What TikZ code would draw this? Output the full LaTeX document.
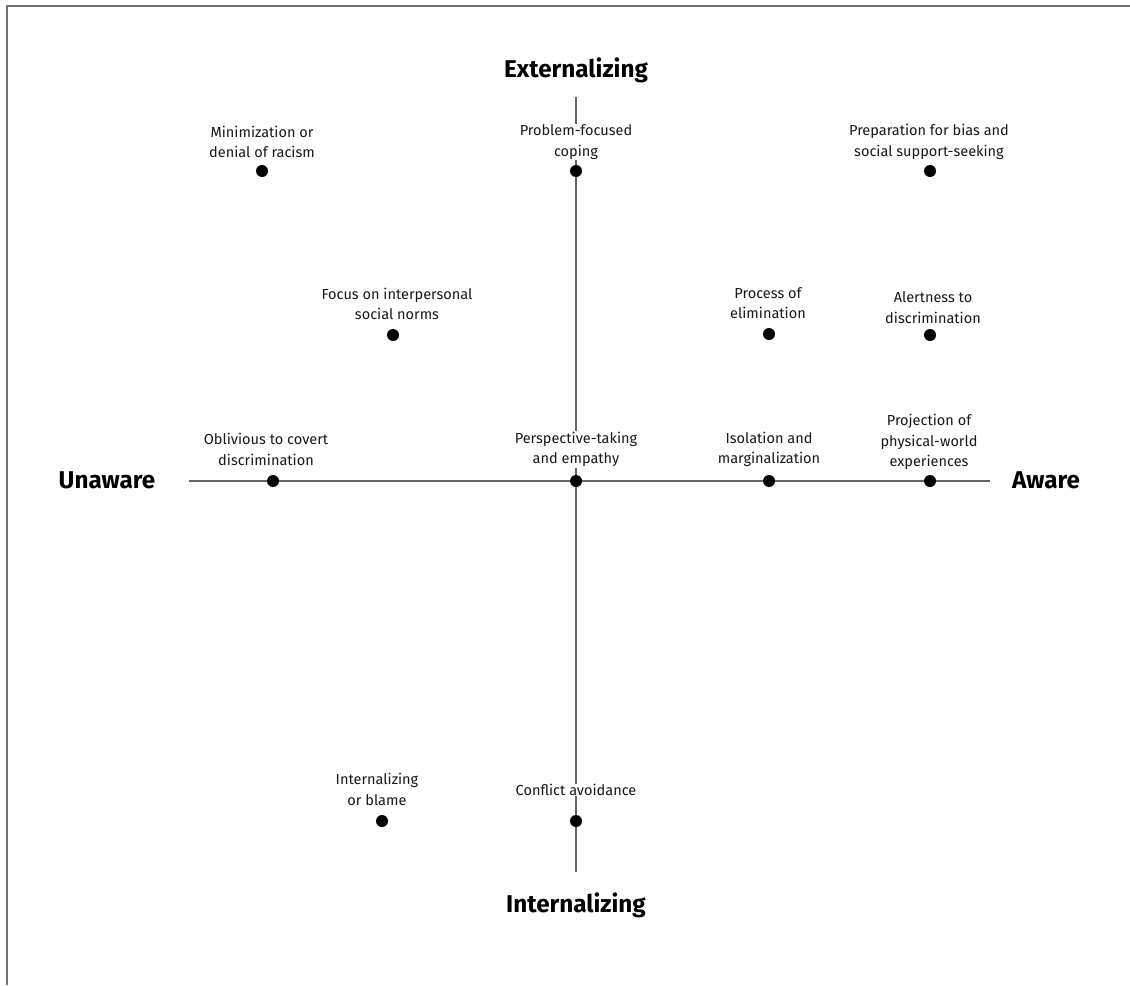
\documentclass[tikz,border=0pt]{standalone}
\usepackage{fontspec}
\setmainfont{Fira Sans}
\begin{document}
\begin{tikzpicture}[x=0.75pt,y=-0.75pt,
  frameline/.style={draw=black!55,line width=1.5pt},
  axisline/.style={draw=black!60,line width=1.5pt},
  dotmark/.style={circle,fill=black,inner sep=0pt,minimum size=9pt},
  lbl/.style={align=center,fill=white,inner sep=0.5pt,text=black!90,
    font=\fontsize{10.9}{15.4}\selectfont},
  pole/.style={font=\fontsize{18.2}{21}\selectfont\bfseries,text=black}]
\useasboundingbox (0,0) rectangle (1130,985);
% open frame: top and left edges only
\draw[frameline] (7,985) -- (7,5.5) -- (1130,5.5);
% axis end points
\coordinate (xl) at (189,481);
\coordinate (xr) at (990,481);
\coordinate (yt) at (576,97);
\coordinate (yb) at (576,872);
\draw[axisline] (xl) -- (xr);
\draw[axisline] (yt) -- (yb);
% pole labels
\node[pole] (ext) at (576,70) {Externalizing};
\node[pole] (int) at (576,905) {Internalizing};
\node[pole] (una) at (107,480) {Unaware};
\node[pole] (awa) at (1046,480) {Aware};
% strategies
\node[lbl] (l1) at (262,142) {Minimization or\\denial of racism};
\node[dotmark] (d1) at (262,171) {};
\node[lbl] (l2) at (576,142) {Problem-focused\\coping};
\node[dotmark] (d2) at (576,171) {};
\node[lbl] (l3) at (929,142) {Preparation for bias and\\social support-seeking};
\node[dotmark] (d3) at (930,171) {};
\node[lbl] (l4) at (397,304) {Focus on interpersonal\\social norms};
\node[dotmark] (d4) at (393,335) {};
\node[lbl] (l5) at (768,303) {Process of\\elimination};
\node[dotmark] (d5) at (769,334) {};
\node[lbl] (l6) at (933,307.5) {Alertness to\\discrimination};
\node[dotmark] (d6) at (930,335) {};
\node[lbl] (l7) at (266,449.5) {Oblivious to covert\\discrimination};
\node[dotmark] (d7) at (273,481) {};
\node[lbl] (l8) at (576,449.5) {Perspective-taking\\and empathy};
\node[dotmark] (d8) at (576,481) {};
\node[lbl] (l9) at (769,449.5) {Isolation and\\marginalization};
\node[dotmark] (d9) at (769,481) {};
\node[lbl] (l10) at (929,442) {Projection of\\physical-world\\experiences};
\node[dotmark] (d10) at (930,481) {};
\node[lbl] (l11) at (377,789.5) {Internalizing\\or blame};
\node[dotmark] (d11) at (382,821) {};
\node[lbl] (l12) at (576,790) {Conflict avoidance};
\node[dotmark] (d12) at (576,821) {};
\end{tikzpicture}
\end{document}
